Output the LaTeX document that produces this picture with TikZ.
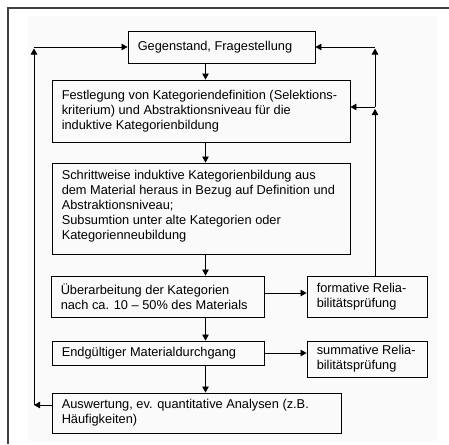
\documentclass[tikz,border=0pt]{standalone}
\usepackage{fontspec}
\setmainfont{Liberation Sans}
\usetikzlibrary{arrows.meta}
\begin{document}
\begin{tikzpicture}[x=1pt,y=-1pt,
  box/.style={draw=black, line width=0.9pt, rectangle, inner sep=0pt},
  txt/.style={anchor=west, align=left, inner sep=0pt, font=\fontsize{12.8}{15}\selectfont},
  arr/.style={line width=0.8pt, -{Triangle[length=6pt,width=6.5pt]}},
  ln/.style={line width=0.8pt}]
\useasboundingbox (0,0) rectangle (449,444);
\fill[black!2] (28,16) rectangle (437,441);
\draw[line width=1.8pt, black!75] (8,444) -- (8,8) -- (449,8);

% boxes
\node[box, minimum width=187pt, minimum height=32pt] (gs) at (221.5,47) {};
\node[txt] (gsT) at ([xshift=10pt]gs.west) {Gegenstand, Fragestellung};

\node[box, minimum width=298pt, minimum height=62pt] (fest) at (201,111) {};
\node[txt] (festT) at ([xshift=10pt,yshift=-0.5pt]fest.west) {Festlegung von Kategoriendefinition (Selektions-\\kriterium) und Abstraktionsniveau für die\\induktive Kategorienbildung};

\node[box, minimum width=298pt, minimum height=91pt] (schr) at (201,208.5) {};
\node[txt] (schrT) at ([xshift=10pt,yshift=2pt]schr.west) {Schrittweise induktive Kategorienbildung aus\\dem Material heraus in Bezug auf Definition und\\Abstraktionsniveau;\\Subsumtion unter alte Kategorien oder\\Kategorienneubildung};

\node[box, minimum width=213pt, minimum height=41pt] (ueb) at (157.5,296.5) {};
\node[txt] (uebT) at ([xshift=10pt]ueb.west) {Überarbeitung der Kategorien\\nach ca. 10 – 50\% des Materials};

\node[box, minimum width=120pt, minimum height=41pt] (form) at (367,296.5) {};
\node[txt] (formT) at ([xshift=10pt]form.west) {formative Relia-\\bilitätsprüfung};

\node[box, minimum width=212pt, minimum height=24pt] (end) at (158,353) {};
\node[txt] (endT) at ([xshift=10pt]end.west) {Endgültiger Materialdurchgang};

\node[box, minimum width=120pt, minimum height=36pt] (summ) at (367,359) {};
\node[txt] (summT) at ([xshift=10pt]summ.west) {summative Relia-\\bilitätsprüfung};

\node[box, minimum width=289pt, minimum height=40pt] (ausw) at (196.5,413) {};
\node[txt] (auswT) at ([xshift=10pt]ausw.west) {Auswertung, ev. quantitative Analysen (z.B.\\Häufigkeiten)};

% helper coordinates
\coordinate (cx) at (205.5,0);
\coordinate (lx) at (34,0);
\coordinate (rx) at (375,0);
\coordinate (ytop) at (0,47);
\coordinate (ymid) at (0,107);
\coordinate (ylow) at (0,405);
\coordinate (yf) at (0,293);
\coordinate (ltop) at (34,47);
\coordinate (lbot) at (34,405);
\coordinate (rtop) at (375,47);
\coordinate (rmid) at (375,107);

% down arrows
\draw[arr] (gs.south -| cx) -- (fest.north -| cx);
\draw[arr] (fest.south -| cx) -- (schr.north -| cx);
\draw[arr] (schr.south -| cx) -- (ueb.north -| cx);
\draw[arr] (ueb.south -| cx) -- (end.north -| cx);
\draw[arr] (end.south -| cx) -- (ausw.north -| cx);

% side arrows
\draw[arr] (ueb.east |- yf) -- (form.west |- yf);
\draw[arr] (end.east) -- (summ.west |- end.east);

% left feedback loop
\draw[arr] (ausw.west |- ylow) -- (lbot);
\draw[arr] (lbot) -- ([yshift=-1.5pt]ltop);
\draw[arr] (ltop) -- (gs.west);

% right feedback loop
\draw[arr] (form.north -| rx) -- ([yshift=-2pt]rmid);
\draw[arr] (rmid) -- (fest.east |- rmid);
\draw[arr] (rmid) -- ([yshift=-1.5pt]rtop);
\draw[arr] (rtop) -- (gs.east);
\end{tikzpicture}
\end{document}
